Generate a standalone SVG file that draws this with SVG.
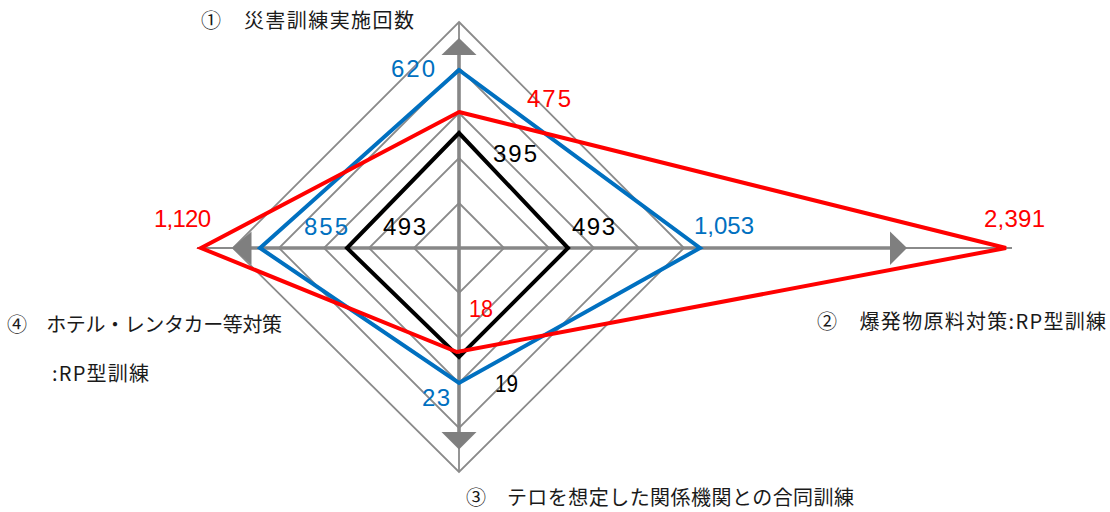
<svg xmlns="http://www.w3.org/2000/svg" width="1110" height="512" viewBox="0 0 1110 512">
<style>
.grid{fill:none;stroke:#8a8a8a;stroke-width:1.8}
.axis{stroke:#878787;stroke-width:3.6;fill:none}
.thin{stroke:#8a8a8a;stroke-width:1.8;fill:none}
.arrow{fill:#7f7f7f;stroke:none}
.series{fill:none;stroke-width:4;stroke-linejoin:miter}
.num{font-family:"Liberation Sans","Noto Sans CJK JP",sans-serif;font-size:24px}
.lab{font-family:"Noto Sans CJK JP","Noto Sans CJK SC",sans-serif;font-size:20px;fill:#1a1a1a}
.blue{fill:#0070c0}.red{fill:#ff0000}.blk{fill:#000}
</style>
<rect width="1110" height="512" fill="#fff"/>
<g id="grid">
<polygon class="grid" points="459,203 504,248 459,293 414,248"/>
<polygon class="grid" points="459,158 549,248 459,338 369,248"/>
<polygon class="grid" points="459,113 594,248 459,383 324,248"/>
<polygon class="grid" points="459,68 639,248 459,428 279,248"/>
<polygon class="grid" points="459,22 684,248 459,472 233,248"/>
</g>
<g id="connectors">
<line class="thin" x1="459" y1="22" x2="459" y2="40"/>
<line class="thin" x1="459" y1="448" x2="459" y2="472"/>
<line class="thin" x1="197" y1="248" x2="234" y2="248"/>
<line class="thin" x1="905" y1="248" x2="1012" y2="248"/>
<line class="axis" x1="459" y1="54" x2="459" y2="433"/>
<line class="axis" x1="250" y1="248" x2="891" y2="248"/>
<polygon class="arrow" points="459,38 476.5,55 441.5,55"/>
<polygon class="arrow" points="459,449.5 476.5,432 441.5,432"/>
<polygon class="arrow" points="232,248 251.5,231.5 251.5,265"/>
<polygon class="arrow" points="907,248 890,231.5 890,265"/>
</g>
<g id="series-black"><polygon class="series" stroke="#000" stroke-width="3.6" points="459,133 568,248 459,357 347,248"/></g>
<g id="series-blue"><polygon class="series" stroke="#0070c0" points="459,70 700,248 459,383 260,248"/></g>
<g id="series-red"><polygon class="series" stroke="#ff0000" points="459,112 1006,248 457,352 201,248"/></g>
<g id="node-1">
<text class="lab" x="201" y="28" textLength="213" lengthAdjust="spacing">①　災害訓練実施回数</text>
</g>
<g id="node-2">
<text class="lab" x="817" y="329" textLength="289" lengthAdjust="spacing">②　爆発物原料対策:RP型訓練</text>
</g>
<g id="node-3">
<text class="lab" x="466" y="505" textLength="388" lengthAdjust="spacing">③　テロを想定した関係機関との合同訓練</text>
</g>
<g id="node-4">
<text class="lab" x="7" y="332" textLength="275" lengthAdjust="spacing">④　ホテル・レンタカー等対策</text>
<text class="lab" x="52" y="381" textLength="97" lengthAdjust="spacing">:RP型訓練</text>
</g>
<g id="values">
<text class="num blue" x="391" y="77" textLength="44" lengthAdjust="spacing">620</text>
<text class="num red" x="527" y="107" textLength="44" lengthAdjust="spacing">475</text>
<text class="num blk" x="493" y="162" textLength="44" lengthAdjust="spacing">395</text>
<text class="num blk" x="383" y="235" textLength="43" lengthAdjust="spacing">493</text>
<text class="num blue" x="304" y="235" textLength="44" lengthAdjust="spacing">855</text>
<text class="num blk" x="572" y="235" textLength="43" lengthAdjust="spacing">493</text>
<text class="num red" x="154" y="227" textLength="57" lengthAdjust="spacing">1,120</text>
<text class="num blue" x="694" y="234" textLength="60" lengthAdjust="spacing">1,053</text>
<text class="num red" x="984" y="227" textLength="61" lengthAdjust="spacing">2,391</text>
<text class="num red" x="469" y="317" textLength="24" lengthAdjust="spacingAndGlyphs">18</text>
<text class="num blk" x="495" y="392" textLength="23" lengthAdjust="spacingAndGlyphs">19</text>
<text class="num blue" x="422" y="406" textLength="28" lengthAdjust="spacing">23</text>
</g>
</svg>
